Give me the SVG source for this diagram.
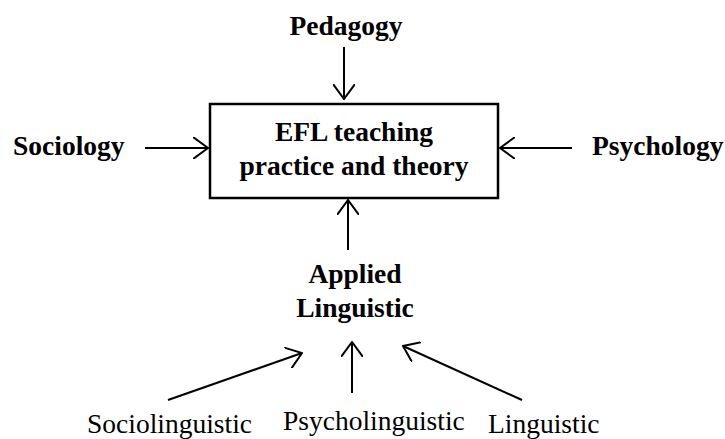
<svg xmlns="http://www.w3.org/2000/svg" width="725" height="439" viewBox="0 0 725 439">
<style>
  .b { font-family: "Liberation Serif", "Times New Roman", serif; font-weight: bold; font-size: 27.5px; fill: #000; }
  .r { font-family: "Liberation Serif", "Times New Roman", serif; font-size: 27.5px; fill: #000; }
  .c { text-anchor: middle; }
  .ln { stroke: #000; stroke-width: 2; fill: none; marker-end: url(#ah); }
</style>
<defs>
  <marker id="ah" viewBox="0 0 16 22" refX="15" refY="11" markerWidth="16" markerHeight="22" markerUnits="userSpaceOnUse" orient="auto">
    <path d="M0,0 L15,11 L0,22" fill="none" stroke="#000" stroke-width="2"/>
  </marker>
</defs>
<g id="connectors">
  <line class="ln" x1="344" y1="47" x2="344" y2="99"/>
  <line class="ln" x1="145" y1="148" x2="208" y2="148"/>
  <line class="ln" x1="572" y1="148" x2="500" y2="148"/>
  <line class="ln" x1="348" y1="250" x2="348" y2="200"/>
  <line class="ln" x1="168" y1="400" x2="302" y2="353"/>
  <line class="ln" x1="352" y1="393" x2="352" y2="342"/>
  <line class="ln" x1="522" y1="400" x2="403" y2="346"/>
</g>
<g id="efl">
  <rect x="210" y="104" width="288" height="94" fill="#fff" stroke="#000" stroke-width="2.5"/>
  <text class="b c" x="354" y="141">EFL teaching</text>
  <text class="b c" x="354" y="175">practice and theory</text>
</g>
<g id="pedagogy"><text class="b c" x="346" y="35">Pedagogy</text></g>
<g id="sociology"><text class="b" x="13" y="155">Sociology</text></g>
<g id="psychology"><text class="b" x="592" y="155">Psychology</text></g>
<g id="applied">
  <text class="b c" x="355" y="283">Applied</text>
  <text class="b c" x="355" y="317">Linguistic</text>
</g>
<g id="sociolinguistic"><text class="r" x="87" y="432.5">Sociolinguistic</text></g>
<g id="psycholinguistic"><text class="r" x="283" y="430">Psycholinguistic</text></g>
<g id="linguistic"><text class="r" x="488" y="432.5">Linguistic</text></g>
</svg>
